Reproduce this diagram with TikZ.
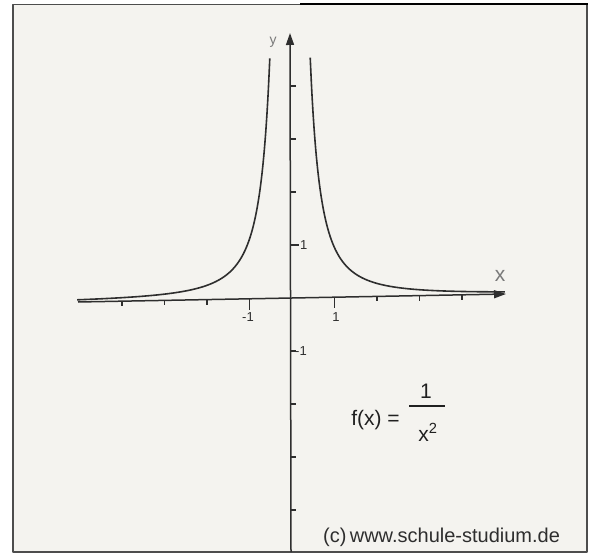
\documentclass[tikz,border=0pt]{standalone}
\usepackage{fontspec}
\setmainfont{Liberation Sans}
\usetikzlibrary{arrows.meta}
\definecolor{paper}{HTML}{F4F3EF}
\definecolor{ink}{HTML}{2E2E2E}
\definecolor{lbl}{HTML}{7A7A7A}
\begin{document}
\begin{tikzpicture}[x=1pt,y=-1pt,line join=round,
  axisline/.style={draw=ink,line width=1.5pt},
  curveline/.style={draw=ink,line width=1.6pt},
  tickmark/.style={draw=ink,line width=1.1pt},
  ticklabel/.style={font=\fontsize{13}{13}\selectfont,text=ink,inner sep=0pt},
  formula/.style={font=\fontsize{21}{21}\selectfont,text=ink!70!black,inner sep=0pt},
  arrowtip/.style={-{Triangle[length=12pt,width=8pt]}}]
\useasboundingbox (0,0) rectangle (591,553);
\fill[white] (0,0) rectangle (591,553);
\draw[fill=paper,draw=ink!85,line width=1.5pt] (13,4.5) rectangle (587,552);
\draw[black,line width=2.2pt] (300,4.2) -- (588,4.2);
% axes
\coordinate (xl) at (78,302);
\coordinate (xr) at (506,294);
\coordinate (yb) at (291,552);
\coordinate (yt) at (290,33);
\draw[axisline,arrowtip] (xl) -- (xr);
\draw[axisline,arrowtip] (yb) -- (yt);
% x ticks
\foreach \k in {-4,-3,-2,2,3,4}
  \draw[tickmark] ({292+42.5*\k},{298-0.794*\k}) -- ++(0,5);
\foreach \k in {-1,1}
  \draw[tickmark] ({292+42.5*\k},{298-0.794*\k}) -- ++(0,11);
\node[ticklabel,anchor=north] (xm1) at (248,312) {-1};
\node[ticklabel,anchor=north] (xp1) at (336,312) {1};
% y ticks
\foreach \k in {2,3,4,-1,-2,-3,-4}
  \draw[tickmark] (290.5,{298-53*\k}) -- ++(5,0);
\draw[tickmark] (290.5,245) -- ++(8,0);
\node[ticklabel,anchor=west] (yp1) at (300,245) {1};
\node[ticklabel,anchor=west] (ym1) at (295,351) {-1};
% curve
\draw[curveline] plot[domain=0.47:5.0,samples=140,smooth] ({290+43*\x},{298-53/((\x)*(\x))-0.804*\x});
\draw[curveline] plot[domain=-0.47:-4.95,samples=140,smooth] ({290+43*\x},{298-53/((\x)*(\x))-0.804*\x});
% axis labels
\node[font=\fontsize{14}{14}\selectfont,text=lbl] (ylab) at (273,42) {y};
\node[font=\fontsize{21}{21}\selectfont,text=lbl] (xlab) at (500,276) {x};
% formula
\node[formula,anchor=base] (fx) at (375.5,425) {f(x) =};
\node[formula,anchor=base] (num) at (426,398) {1};
\draw[ink!70!black,line width=2.2pt] (409,406) -- (445,406);
\node[formula,anchor=base] (den) at (428,441) {x\textsuperscript{2}};
% copyright
\node[font=\fontsize{20}{20}\selectfont,text=ink,anchor=base west,inner sep=0pt] (copy) at (323,542) {(c)\,www.schule-studium.de};
\end{tikzpicture}
\end{document}
